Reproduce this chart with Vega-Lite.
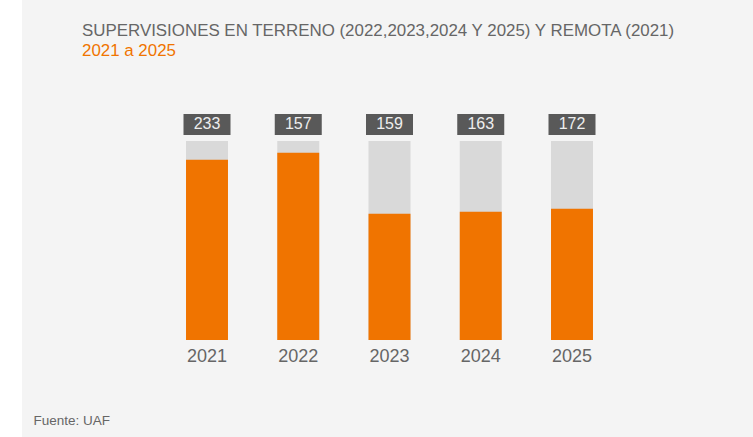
{
  "$schema": "https://vega.github.io/schema/vega-lite/v6.json",
  "width": 731,
  "height": 437,
  "autosize": {"type": "none"},
  "padding": {"left": 22, "top": 0, "right": 0, "bottom": 0},
  "background": "#ffffff",
  "config": {"view": {"fill": "#f4f4f4", "stroke": null}},
  "title": {
    "text": "SUPERVISIONES EN TERRENO (2022,2023,2024 Y 2025) Y REMOTA (2021)",
    "subtitle": "2021 a 2025",
    "anchor": "start",
    "frame": "group",
    "dx": 60,
    "offset": -60,
    "font": "Liberation Sans",
    "fontSize": 16.9,
    "fontWeight": "normal",
    "color": "#666666",
    "subtitleFont": "Liberation Sans",
    "subtitleFontSize": 16.9,
    "subtitleColor": "#f07400",
    "subtitlePadding": 3
  },
  "data": {
    "values": [
      {"year": "2021", "total": 233, "pct": 90.6},
      {"year": "2022", "total": 157, "pct": 94.1},
      {"year": "2023", "total": 159, "pct": 63.5},
      {"year": "2024", "total": 163, "pct": 64.5},
      {"year": "2025", "total": 172, "pct": 66.0}
    ]
  },
  "encoding": {
    "x": {
      "field": "year",
      "type": "ordinal",
      "scale": {"range": [139.375, 595.625], "paddingInner": 0.54, "paddingOuter": 0.27},
      "axis": {
        "orient": "bottom",
        "offset": -97,
        "domain": false,
        "ticks": false,
        "grid": false,
        "labelAngle": 0,
        "labelPadding": 7,
        "labelFont": "Liberation Sans",
        "labelFontSize": 18,
        "labelColor": "#666666",
        "title": "Fuente: UAF",
        "titleFont": "Liberation Sans",
        "titleFontSize": 13.5,
        "titleFontWeight": "normal",
        "titleColor": "#666666",
        "titleX": 11,
        "titleY": 84,
        "titleAlign": "left",
        "titleAnchor": "start",
        "titleBaseline": "alphabetic"
      }
    }
  },
  "layer": [
    {
      "mark": {"type": "bar", "color": "#d9d9d9"},
      "encoding": {
        "y": {"datum": 0, "type": "quantitative", "scale": {"domain": [0, 100], "range": [340, 141]}, "axis": null},
        "y2": {"datum": 100}
      }
    },
    {
      "mark": {"type": "bar", "color": "#f07400"},
      "encoding": {
        "y": {"field": "pct", "type": "quantitative"},
        "y2": {"datum": 0}
      }
    },
    {
      "mark": {"type": "bar", "color": "#595959", "width": 47},
      "encoding": {
        "y": {"datum": 103, "type": "quantitative"},
        "y2": {"datum": 113.6}
      }
    },
    {
      "mark": {"type": "text", "color": "#eeeeee", "font": "Liberation Sans", "fontSize": 16, "baseline": "middle"},
      "encoding": {
        "y": {"datum": 108.3, "type": "quantitative"},
        "text": {"field": "total", "type": "quantitative"}
      }
    }
  ]
}
